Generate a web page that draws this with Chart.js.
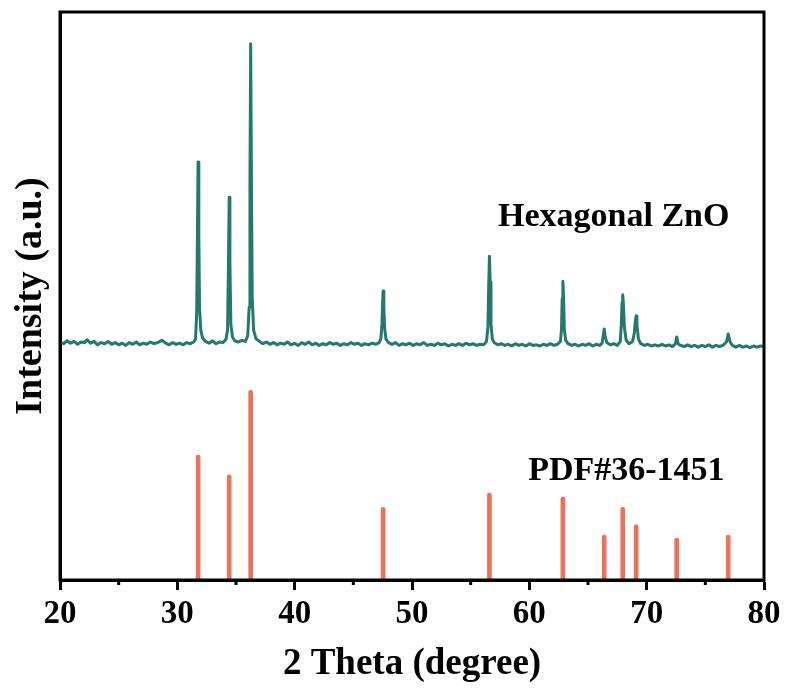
<!DOCTYPE html>
<html>
<head>
<meta charset="utf-8">
<script src="https://cdn.jsdelivr.net/npm/chart.js@4"></script>
<style>
  body { margin: 0; background: #fff; }
  #wrap { width: 787px; height: 689px; }
</style>
</head>
<body>
<div id="wrap"><canvas id="xrdChart"></canvas></div>
<script>
// measured scan, [2theta, intensity]
const scan = [
  [20.0,419],[20.3,416],[20.6,421],[20.9,417],[21.2,420],[21.5,415],[21.8,419],[22.1,418],[22.3,423],[22.6,417],
  [22.9,420],[23.2,414],[23.5,418],[23.8,416],[24.1,420],[24.4,415],[24.7,418],[25.0,414],[25.3,417],[25.6,413],
  [25.9,418],[26.2,415],[26.5,419],[26.8,414],[27.1,417],[27.4,415],[27.7,419],[28.0,416],[28.3,418],[28.7,422],
  [29.0,417],[29.3,414],[29.6,418],[29.9,415],[30.2,417],[30.5,414],[30.8,418],[31.1,416],[31.4,419],
  [31.55,424],[31.65,470],[31.71,600],[31.77,736],[31.83,610],[31.89,480],[32.0,440],[32.15,426],[32.4,420],
  [32.7,417],[33.0,421],[33.3,416],[33.6,419],[33.9,418],[34.15,424],
  [34.28,440],[34.36,560],[34.42,674],[34.48,560],[34.56,450],[34.7,428],[34.9,421],
  [35.2,419],[35.5,422],[35.8,420],[36.0,430],
  [36.12,480],[36.19,700],[36.25,944],[36.31,720],[36.38,500],[36.5,440],[36.7,425],[37.0,420],
  [37.3,416],[37.6,419],[37.9,415],[38.2,418],[38.5,414],[38.8,417],[39.1,415],[39.4,419],[39.7,414],[40.0,417],
  [40.3,413],[40.6,418],[40.9,415],[41.2,419],[41.5,414],[41.8,417],[42.1,413],[42.4,416],[42.7,414],[43.0,418],
  [43.3,415],[43.6,417],[43.9,413],[44.2,416],[44.5,414],[44.8,418],[45.1,415],[45.4,417],[45.7,413],[46.0,416],
  [46.3,414],[46.6,417],[46.9,415],[47.2,418],[47.35,425],
  [47.44,450],[47.49,485],[47.54,509],[47.6,480],[47.66,445],[47.78,424],[48.0,418],
  [48.3,415],[48.6,418],[48.9,413],[49.2,416],[49.5,414],[49.8,417],[50.1,413],[50.4,416],[50.7,414],[51.0,418],
  [51.3,413],[51.6,415],[51.9,413],[52.2,417],[52.5,414],[52.8,416],[53.1,412],[53.4,415],[53.7,413],[54.0,416],
  [54.3,413],[54.6,417],[54.9,414],[55.2,416],[55.5,413],[55.8,415],[56.1,414],[56.35,420],
  [56.47,445],[56.54,520],[56.6,570],[56.66,525],[56.73,450],[56.85,424],[57.0,418],
  [57.3,414],[57.6,416],[57.9,413],[58.2,415],[58.5,412],[58.8,416],[59.1,413],[59.4,415],[59.7,412],[60.0,416],
  [60.3,413],[60.6,414],[60.9,412],[61.2,415],[61.5,413],[61.8,416],[62.1,413],[62.4,415],[62.65,420],
  [62.74,440],[62.8,495],[62.86,526],[62.92,495],[62.98,442],[63.1,422],[63.3,416],
  [63.6,413],[63.9,415],[64.2,412],[64.5,415],[64.8,413],[65.1,416],[65.4,412],[65.7,415],[66.0,413],[66.2,417],
  [66.3,430],[66.38,442],[66.46,430],[66.6,418],
  [66.9,414],[67.2,416],[67.5,413],[67.75,420],
  [67.84,450],[67.9,488],[67.96,502],[68.02,485],[68.1,445],[68.25,422],[68.5,416],[68.8,420],[68.95,435],
  [69.03,455],[69.1,465],[69.17,450],[69.3,424],[69.5,416],
  [69.8,413],[70.1,415],[70.4,412],[70.7,414],[71.0,412],[71.3,415],[71.6,412],[71.9,414],[72.2,411],[72.45,416],
  [72.56,428],[72.68,416],
  [72.9,413],[73.2,411],[73.5,414],[73.8,411],[74.1,413],[74.4,410],[74.7,413],[75.0,411],[75.3,414],[75.6,410],
  [75.9,413],[76.2,411],[76.5,413],[76.8,419],
  [76.95,433],[77.1,420],[77.3,413],
  [77.6,410],[77.9,413],[78.2,410],[78.5,412],[78.8,409],[79.1,412],[79.4,410],[79.7,412],[80.0,411]
];

// reference card PDF#36-1451
const refTheta = [31.77, 34.42, 36.25, 47.54, 56.60, 62.86, 66.38, 67.96, 69.10, 72.56, 76.95];
const refInt   = [220, 185, 334, 128, 153, 146, 79, 128, 97, 74, 79];

const xTicks = [20, 30, 40, 50, 60, 70, 80];
const xMinor = [25, 35, 45, 55, 65, 75];

const labels = [
  { text: 'Hexagonal ZnO', x: 57.33, y: 639 },
  { text: 'PDF#36-1451', x: 59.9, y: 192 }
];

const serif = '"Liberation Serif", "Times New Roman", serif';

// frame, minor ticks and text labels
const extras = {
  id: 'extras',
  afterDraw(chart) {
    const ctx = chart.ctx;
    const a = chart.chartArea;
    const xs = chart.scales.x, ys = chart.scales.y;
    ctx.save();
    ctx.strokeStyle = '#000';
    ctx.lineWidth = 3;
    ctx.strokeRect(a.left, a.top, a.right - a.left, a.bottom - a.top);
    xMinor.forEach(v => {
      const px = xs.getPixelForValue(v);
      ctx.beginPath();
      ctx.moveTo(px, a.bottom);
      ctx.lineTo(px, a.bottom + 5);
      ctx.stroke();
    });
    ctx.fillStyle = '#000';
    ctx.font = 'bold 34px ' + serif;
    ctx.textBaseline = 'middle';
    ctx.textAlign = 'left';
    labels.forEach(l => {
      ctx.fillText(l.text, xs.getPixelForValue(l.x), ys.getPixelForValue(l.y));
    });
    ctx.restore();
  }
};

var ctx = document.getElementById('xrdChart').getContext('2d');
var xrdChart = new Chart(ctx, {
  data: {
    datasets: [{
      type: 'line',
      label: 'Hexagonal ZnO',
      data: scan.map(p => ({ x: p[0], y: p[1] })),
      borderColor: '#24786c',
      borderWidth: 3,
      borderJoinStyle: 'round',
      borderCapStyle: 'round',
      pointRadius: 0,
      tension: 0,
      fill: false
    }, {
      type: 'bar',
      label: 'PDF#36-1451',
      data: refTheta.map((t, i) => ({ x: t, y: refInt[i] })),
      backgroundColor: '#e9735c',
      barThickness: 4,
      borderRadius: 2,
      borderSkipped: 'bottom',
      grouped: false
    }]
  },
  plugins: [extras],
  options: {
    responsive: true,
    maintainAspectRatio: false,
    animation: false,
    layout: { padding: { top: 12, right: 23, left: 0, bottom: 0 } },
    plugins: {
      legend: { display: false },
      tooltip: { enabled: false }
    },
    scales: {
      x: {
        type: 'linear',
        min: 20,
        max: 80,
        offset: false,
        afterFit: s => { s.height = 109; },
        afterBuildTicks: s => { s.ticks = xTicks.map(v => ({ value: v })); },
        ticks: {
          autoSkip: false,
          padding: 5,
          color: '#000',
          font: { family: serif, size: 33, weight: 'bold' }
        },
        grid: { drawOnChartArea: false, drawTicks: true, tickLength: 10, tickWidth: 3, tickColor: '#000', offset: false },
        border: { display: true, width: 3, color: '#000' },
        title: {
          display: true,
          text: '2 Theta (degree)',
          color: '#000',
          padding: { top: 0, bottom: 2 },
          font: { family: serif, size: 37, weight: 'bold' }
        }
      },
      y: {
        min: 0,
        max: 1000,
        afterFit: s => { s.width = 60; },
        ticks: { display: false },
        grid: { drawOnChartArea: false, drawTicks: false },
        border: { display: true, width: 3, color: '#000' },
        title: {
          display: true,
          text: 'Intensity (a.u.)',
          color: '#000',
          padding: { top: 8, bottom: 0 },
          font: { family: serif, size: 38, weight: 'bold' }
        }
      }
    }
  }
});
</script>
</body>
</html>
